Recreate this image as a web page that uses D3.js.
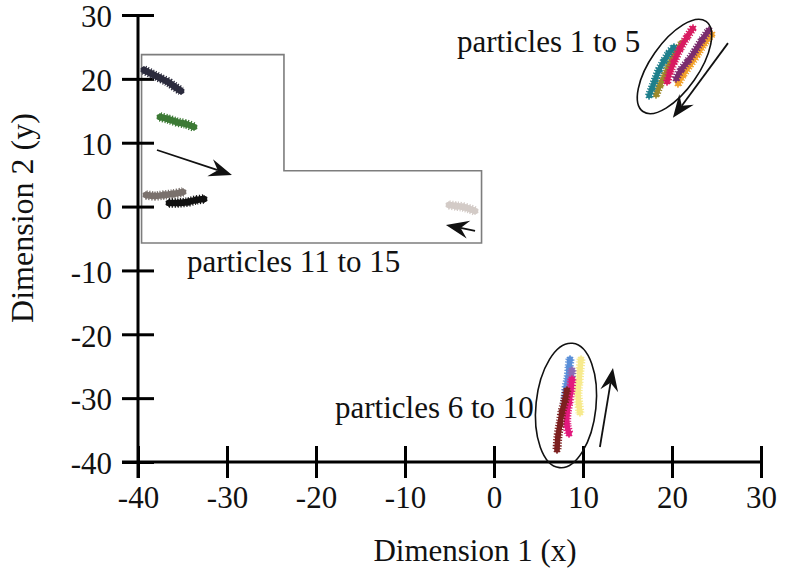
<!DOCTYPE html>
<html>
<head>
<meta charset="utf-8">
<script src="https://cdn.jsdelivr.net/npm/d3@7/dist/d3.min.js"></script>
<style>
  html, body { margin: 0; padding: 0; background: #fff; }
  svg { display: block; }
  text { font-family: "Liberation Serif", "Times New Roman", serif; fill: #111; }
</style>
</head>
<body>
<svg id="chart" width="786" height="575"></svg>
<script>
// Axis ticks
const xTicks = [-40, -30, -20, -10, 0, 10, 20, 30];
const yTicks = [-40, -30, -20, -10, 0, 10, 20, 30];

// Particle trajectories, [x, y] in embedding coordinates
const particles1to5 = [
  { id: 3, color: "#9c8a2c", pts: [[18.20,17.47],[18.65,19.04],[19.21,20.60],[19.78,22.48],[20.45,24.21],[21.12,25.62]] },
  { id: 1, color: "#1f7f8c", pts: [[17.42,17.32],[17.75,18.57],[18.09,19.82],[18.54,21.39],[19.10,22.80],[19.66,24.05],[20.22,24.99]] },
  { id: 2, color: "#d81b60", pts: [[19.44,19.51],[19.78,21.07],[20.22,22.64],[20.90,24.68],[21.69,26.55],[22.36,27.96]] },
  { id: 4, color: "#f2a22c", pts: [[20.67,19.20],[21.24,20.60],[22.02,22.17],[22.81,23.74],[23.60,25.46],[24.49,27.02]] },
  { id: 5, color: "#7b2d6e", pts: [[20.45,19.98],[21.01,21.39],[21.80,22.80],[22.58,24.36],[23.37,26.09],[24.16,27.65]] }
];
const particles6to10 = [
  { id: 6, color: "#f7ea8e", pts: [[9.78,-23.87],[9.66,-25.59],[9.55,-27.47],[9.44,-29.35],[9.55,-31.07],[9.66,-32.32]] },
  { id: 7, color: "#5a8fd8", pts: [[8.54,-23.87],[8.43,-25.28],[8.31,-26.84],[8.09,-28.41],[7.98,-29.98],[7.87,-31.23]] },
  { id: 8, color: "#8d6bb5", pts: [[8.76,-25.59],[8.65,-27.16],[8.43,-28.72],[8.20,-30.29]] },
  { id: 9, color: "#e31a7d", pts: [[8.76,-27.00],[8.65,-28.72],[8.43,-30.60],[8.20,-32.48],[8.20,-34.20],[8.43,-35.61]] },
  { id: 10, color: "#7d2020", pts: [[8.20,-28.72],[7.98,-30.29],[7.64,-32.17],[7.42,-34.05],[7.19,-35.93],[7.08,-38.12]] }
];
const particles11to15 = [
  { id: 11, color: "#2b2b3d", pts: [[-39.33,21.39],[-38.43,20.76],[-37.53,20.13],[-36.63,19.51],[-35.84,18.73],[-35.17,18.10]] },
  { id: 12, color: "#3c7a35", pts: [[-37.53,14.03],[-36.63,13.71],[-35.62,13.24],[-34.61,12.93],[-33.71,12.46]] },
  { id: 13, color: "#7a716d", pts: [[-39.10,1.81],[-38.09,1.66],[-37.08,1.81],[-36.07,1.97],[-34.94,2.28]] },
  { id: 14, color: "#111111", pts: [[-36.52,0.56],[-35.51,0.56],[-34.38,0.72],[-33.48,1.03],[-32.58,1.19]] },
  { id: 15, color: "#d3cbc7", pts: [[-5.06,0.25],[-4.27,0.09],[-3.48,-0.07],[-2.70,-0.38],[-2.13,-0.69]] }
];

// Region enclosing particles 11 to 15
const regionOutline = [[-39.6,23.8],[-23.6,23.8],[-23.6,5.6],[-1.4,5.6],[-1.4,-5.7],[-39.6,-5.7]];

// Direction-of-motion arrows: [tail, tip]
const arrows = [
  [[26.29,25.6],[20.1,13.9]],
  [[11.9,-37.65],[13.37,-25.28]],
  [[-37.87,8.86],[-29.44,4.95]],
  [[-2.13,-3.82],[-5.4,-2.88]]
];

// Cluster outlines: centre in data units
const clusters = [
  { cx: 20.28, cy: 21.94, rx: 55, ry: 24, rot: -55 },
  { cx: 8.09, cy: -31.15, rx: 30, ry: 62.5, rot: 6 }
];

// Group labels: anchor at text start, baseline
const groupLabels = [
  { text: "particles 1 to 5", x: -4.16, y: 24.2 },
  { text: "particles 6 to 10", x: -17.87, y: -33.11 },
  { text: "particles 11 to 15", x: -34.49, y: -10.24 }
];

const svg = d3.select("#chart");
const x = d3.scaleLinear().domain([-40, 30]).range([138, 761]);
const y = d3.scaleLinear().domain([-40, 30]).range([462, 15]);
const fontSize = "31px";

// Region outline
svg.append("path")
  .attr("d", d3.line().x(d => x(d[0])).y(d => y(d[1]))(regionOutline) + "Z")
  .attr("fill", "none")
  .attr("stroke", "#7d7d7d")
  .attr("stroke-width", 1.6);

// Axes with ticks crossing the axis line
const tickLen = 16;
const xAxis = svg.append("g").attr("transform", `translate(0,${y(-40)})`)
  .call(d3.axisBottom(x).tickValues(xTicks).tickFormat(d => String(d)).tickSize(0).tickPadding(0));
xAxis.select(".domain").remove();
xAxis.selectAll(".tick line").attr("y1", -tickLen).attr("y2", tickLen).attr("stroke", "#000").attr("stroke-width", 3);
xAxis.selectAll(".tick text").attr("y", 46).attr("dy", null)
  .style("font-family", "'Liberation Serif', serif").style("font-size", fontSize).attr("fill", "#111");
xAxis.append("line").attr("x1", x(-40) - tickLen).attr("x2", x(30)).attr("stroke", "#000").attr("stroke-width", 3);

const yAxis = svg.append("g").attr("transform", `translate(${x(-40)},0)`)
  .call(d3.axisLeft(y).tickValues(yTicks).tickFormat(d => String(d)).tickSize(0).tickPadding(0));
yAxis.select(".domain").remove();
yAxis.selectAll(".tick line").attr("x1", -tickLen).attr("x2", tickLen).attr("stroke", "#000").attr("stroke-width", 3);
yAxis.selectAll(".tick text").attr("x", -26).attr("dy", "0.38em")
  .style("font-family", "'Liberation Serif', serif").style("font-size", fontSize).attr("fill", "#111");
yAxis.append("line").attr("y1", y(30)).attr("y2", y(-40) + tickLen).attr("stroke", "#000").attr("stroke-width", 3);

// Axis titles
svg.append("text")
  .attr("x", 475).attr("y", 561)
  .attr("text-anchor", "middle")
  .style("font-size", fontSize)
  .text("Dimension 1 (x)");
svg.append("text")
  .attr("transform", `translate(33,218) rotate(-90)`)
  .attr("text-anchor", "middle")
  .style("font-size", "32px")
  .text("Dimension 2 (y)");

// Trajectories: a solid core plus a bristled edge of star markers
const line = d3.line().x(d => x(d[0])).y(d => y(d[1])).curve(d3.curveCatmullRom);
const star = d3.symbol().type(d3.symbolAsterisk).size(38);
function drawGroup(group, core, edge) {
  const g = svg.append("g");
  group.forEach(p => {
    const pg = g.append("g");
    pg.append("path").attr("d", line(p.pts))
      .attr("fill", "none").attr("stroke", p.color)
      .attr("stroke-width", edge).attr("stroke-dasharray", "1.2 1.6")
      .attr("stroke-linecap", "butt");
    pg.append("path").attr("d", line(p.pts))
      .attr("fill", "none").attr("stroke", p.color)
      .attr("stroke-width", core).attr("stroke-linecap", "round").attr("stroke-linejoin", "round");
    pg.selectAll("path.m").data(p.pts).join("path").attr("class", "m")
      .attr("d", star)
      .attr("transform", d => `translate(${x(d[0])},${y(d[1])})`)
      .attr("fill", "none").attr("stroke", p.color).attr("stroke-width", 1.4);
  });
}
drawGroup(particles1to5, 5, 8.5);
drawGroup(particles6to10, 5.5, 9);
drawGroup(particles11to15, 6.5, 9.5);

// Cluster ellipses
svg.selectAll("ellipse.cluster").data(clusters).join("ellipse")
  .attr("class", "cluster")
  .attr("transform", d => `translate(${x(d.cx)},${y(d.cy)}) rotate(${d.rot})`)
  .attr("rx", d => d.rx).attr("ry", d => d.ry)
  .attr("fill", "none").attr("stroke", "#111").attr("stroke-width", 1.6);

// Arrows with barbed heads
arrows.forEach(([t, h]) => {
  const x0 = x(t[0]), y0 = y(t[1]), x1 = x(h[0]), y1 = y(h[1]);
  const ang = Math.atan2(y1 - y0, x1 - x0);
  const L = 23, W = 9, back = 15;
  const ux = Math.cos(ang), uy = Math.sin(ang);
  const px = -uy, py = ux;
  const bx = x1 - ux * L, by = y1 - uy * L;
  const nx = x1 - ux * back, ny = y1 - uy * back;
  svg.append("line")
    .attr("x1", x0).attr("y1", y0).attr("x2", nx).attr("y2", ny)
    .attr("stroke", "#111").attr("stroke-width", 1.8);
  svg.append("path")
    .attr("d", `M${x1},${y1}L${bx + px * W},${by + py * W}L${nx},${ny}L${bx - px * W},${by - py * W}Z`)
    .attr("fill", "#111");
});

// Group labels
svg.selectAll("text.group").data(groupLabels).join("text")
  .attr("class", "group")
  .attr("x", d => x(d.x)).attr("y", d => y(d.y))
  .style("font-size", fontSize)
  .text(d => d.text);
</script>
</body>
</html>
